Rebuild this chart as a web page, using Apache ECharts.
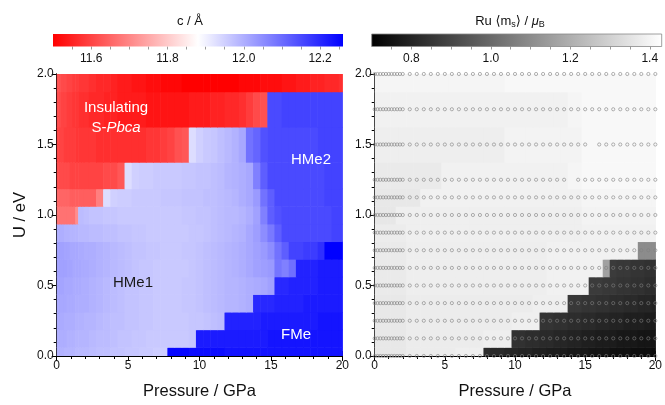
<!DOCTYPE html>
<html><head><meta charset="utf-8">
<script src="https://cdn.jsdelivr.net/npm/echarts@6/dist/echarts.min.js"></script>
<style>html,body{margin:0;padding:0;background:#fff}#c{width:665px;height:405px}</style>
</head><body><div id="c"></div>
<script>
// ---------- grid of calculated points ----------
const pressures = [0,0.2,0.4,0.6,0.8,1.0,1.2,1.4,1.6,1.8,2.0,
  2.5,3,3.5,4,4.5,5,5.5,6,6.5,7,7.5,8,8.5,9,9.5,10,10.5,11,11.5,12,12.5,13,13.5,14,14.5,15,15.5,16,16.5,17,17.5,18,18.5,19,19.5,20];
const uValues = [0,0.125,0.25,0.375,0.5,0.625,0.75,0.875,1.0,1.125,1.25,1.5,1.75,2.0];
const missingDots = [[15.5,1.5],[14,1.25]];

// ---------- lattice parameter c (Å), one row per U ----------
const c_U0_000 = [11.995,11.995,11.995,11.99,11.99,11.99,11.99,11.985,11.985,11.985,11.985,
 11.98,11.975,11.975,11.97,11.97,11.965,11.965,11.96,11.96,11.955,11.955,
 12.25,12.25,12.25,12.24,12.24,12.24,12.24,12.24,12.23,12.23,12.23,12.23,12.23,12.23,12.23,12.23,12.23,12.23,12.23,12.23,12.23,12.23,12.23,12.23,12.23];
const c_U0_125 = [12.00,12.00,12.00,12.00,11.995,11.995,11.995,11.99,11.99,11.99,11.99,
 11.985,11.98,11.98,11.975,11.97,11.97,11.965,11.965,11.96,11.96,
 11.96,11.96,11.96,11.96,11.965,
 12.22,12.22,12.22,12.22,12.22,12.22,12.22,12.22,12.22,12.22,12.23,12.23,12.23,12.23,12.23,12.23,12.23,12.23,12.23,12.23,12.23];
const c_U0_250 = [12.005,12.005,12.005,12.00,12.00,12.00,12.00,11.995,11.995,11.995,11.99,
 11.99,11.985,11.98,11.975,11.975,11.97,11.97,11.965,11.965,11.96,
 11.96,11.96,11.96,11.96,11.965,11.965,11.97,11.975,11.98,
 12.21,12.21,12.21,12.21,12.21,12.22,12.22,12.22,12.22,12.22,12.22,12.22,12.22,12.23,12.23,12.23,12.23];
const c_U0_375 = [12.01,12.01,12.01,12.01,12.005,12.005,12.005,12.00,12.00,12.00,12.00,
 11.995,11.99,11.985,11.98,11.975,11.97,11.97,11.965,11.965,11.96,
 11.96,11.96,11.96,11.965,11.965,11.97,11.975,11.98,11.985,11.99,
 11.99,11.995,12.00,
 12.20,12.20,12.20,12.21,12.21,12.21,12.21,12.22,12.22,12.22,12.22,12.22,12.22];
const c_U0_500 = [12.015,12.015,12.015,12.01,12.01,12.01,12.005,12.005,12.005,12.00,12.00,
 11.995,11.99,11.985,11.98,11.975,11.97,11.97,11.965,11.965,11.96,
 11.96,11.96,11.96,11.965,11.965,11.97,11.975,11.98,11.985,11.99,
 11.99,11.995,12.00,
 12.005,12.01,12.02,
 12.20,12.20,12.21,12.21,12.21,12.21,12.22,12.22,12.22,12.22];
const c_U0_625 = [12.02,12.02,12.02,12.02,12.015,12.015,12.01,12.01,12.01,12.005,12.005,
 12.00,11.995,11.99,11.985,11.98,11.975,11.97,11.965,11.965,11.96,
 11.96,11.96,11.96,11.96,11.965,11.97,11.975,11.98,11.985,11.99,
 11.995,12.00,12.01,
 12.02,12.025,12.03,
 12.085,12.07,12.095,
 12.21,12.21,12.21,12.22,12.22,12.22,12.22];
const c_U0_750 = [12.02,12.02,12.02,12.015,12.015,12.01,12.01,12.01,12.005,12.005,12.00,
 12.00,11.995,11.99,11.985,11.98,11.975,11.97,11.97,11.965,11.965,
 11.96,11.96,11.96,11.965,11.965,11.97,11.975,11.98,11.985,11.99,
 11.995,12.00,12.01,
 12.02,12.03,12.05,12.09,12.12,
 12.16,12.16,12.17,12.17,12.19,
 12.26,12.26,12.26];
const c_U0_875 = [12.00,12.00,12.00,11.995,11.995,11.99,11.99,11.99,11.985,11.985,11.985,
 11.98,11.98,11.975,11.975,11.97,11.97,11.965,11.965,11.96,11.96,
 11.96,11.96,11.96,11.96,11.965,11.965,11.97,11.975,11.98,11.985,
 11.99,11.995,12.01,
 12.025,12.05,12.08,12.12,
 12.15,12.15,12.15,12.15,12.15,12.15,12.15,12.16,12.16];
const c_U1_000 = [11.67,11.67,11.67,11.67,11.67,11.67,11.67,11.71,11.98,11.98,11.975,
 11.97,11.97,11.965,11.965,11.96,11.96,11.96,11.96,11.96,11.96,
 11.96,11.96,11.96,11.965,11.965,11.97,11.97,11.975,11.98,
 11.985,11.985,11.99,12.00,
 12.02,12.07,12.12,12.14,
 12.15,12.15,12.15,12.15,12.15,12.15,12.15,12.16,12.16];
const c_U1_125 = [11.65,11.65,11.65,11.65,11.65,11.64,11.64,11.64,11.64,11.64,11.64,
 11.64,11.69,
 11.93,
 11.95,11.955,11.955,11.96,11.96,11.96,11.96,11.965,11.965,11.965,11.97,11.97,
 11.97,11.975,11.975,11.98,11.985,11.99,12.00,
 12.01,12.03,12.09,12.12,
 12.15,12.15,12.15,12.15,12.15,12.15,12.15,12.16,12.16,12.16];
const c_U1_250 = [11.61,11.61,11.61,11.61,11.61,11.60,11.60,11.60,11.60,11.60,11.60,
 11.60,11.60,11.61,11.61,11.63,
 11.93,
 11.95,11.955,11.955,11.96,11.96,11.96,11.96,11.965,11.965,
 11.97,11.97,11.975,11.98,
 11.99,11.995,12.00,
 12.01,12.07,12.12,
 12.15,12.15,12.15,12.15,12.15,12.15,12.15,12.15,12.16,12.16,12.16];
const c_U1_500 = [11.60,11.60,11.60,11.59,11.59,11.59,11.59,11.58,11.58,11.58,11.58,
 11.58,11.57,11.57,11.57,11.57,11.57,11.57,11.57,11.58,11.58,
 11.59,11.60,11.62,11.63,
 11.93,11.95,11.96,11.965,11.975,11.985,11.995,12.01,
 12.09,12.11,12.14,
 12.15,12.15,12.15,12.15,12.15,12.15,12.15,12.16,12.16,12.16,12.16];
const c_U1_750 = [11.61,11.61,11.60,11.60,11.59,11.59,11.58,11.58,11.57,11.57,11.57,
 11.56,11.56,11.55,11.55,11.54,11.54,11.54,11.54,11.53,11.53,
 11.53,11.53,11.53,11.53,11.54,11.54,11.54,11.55,11.55,11.56,
 11.56,11.57,11.59,11.61,11.62,
 12.15,12.15,12.16,12.16,12.16,12.16,12.16,12.16,12.16,12.16,12.16];
const c_U2_000 = [11.62,11.62,11.61,11.61,11.60,11.60,11.59,11.59,11.58,11.58,11.58,
 11.57,11.56,11.56,11.55,11.54,11.54,11.53,11.53,11.52,11.52,
 11.51,11.51,11.51,11.50,11.50,11.50,11.50,11.50,11.50,11.50,
 11.50,11.51,11.51,11.51,11.52,11.52,11.52,11.53,11.53,11.54,
 11.54,11.55,11.55,11.56,11.56,11.57];

// ---------- Ru moment <m_s> (μB), one row per U ----------
const m_U0_000 = [1.365,1.365,1.365,1.365,1.365,1.365,1.365,1.365,1.365,1.365,1.365,
 1.375,1.375,1.375,1.375,1.375,1.375,1.375,1.385,1.385,1.385,1.385,
 0.83,0.82,0.82,0.81,0.81,0.80,0.80,0.79,0.79,0.78,0.78,0.78,0.77,0.77,0.77,0.76,0.76,0.76,0.75,0.75,0.75,0.74,0.74,0.74,0.735];
const m_U0_125 = [1.365,1.365,1.365,1.365,1.365,1.365,1.365,1.365,1.365,1.365,1.365,
 1.375,1.375,1.375,1.375,1.375,1.375,1.375,1.375,1.375,1.375,1.375,1.385,1.385,1.385,1.385,
 0.84,0.84,0.83,0.83,0.82,0.82,0.81,0.81,0.80,0.80,0.79,0.79,0.78,0.78,0.78,0.77,0.77,0.77,0.76,0.76,0.76];
const m_U0_250 = [1.365,1.365,1.365,1.365,1.365,1.365,1.365,1.365,1.365,1.365,1.365,
 1.375,1.375,1.375,1.375,1.375,1.375,1.375,1.375,1.375,1.375,1.375,1.375,1.375,1.375,1.375,1.385,1.385,1.385,1.385,
 0.85,0.85,0.84,0.84,0.83,0.83,0.82,0.82,0.81,0.81,0.80,0.80,0.79,0.79,0.79,0.78,0.78];
const m_U0_375 = [1.365,1.365,1.365,1.365,1.365,1.365,1.365,1.365,1.365,1.365,1.365,
 1.375,1.375,1.375,1.375,1.375,1.375,1.375,1.375,1.375,1.375,1.375,1.375,1.375,1.375,1.375,1.375,1.375,1.375,
 1.385,1.385,1.385,1.385,1.385,
 0.86,0.86,0.85,0.85,0.84,0.84,0.83,0.83,0.82,0.82,0.81,0.81,0.80];
const m_U0_500 = [1.37,1.37,1.37,1.37,1.37,1.37,1.37,1.37,1.37,1.37,1.37,
 1.38,1.38,1.38,1.38,1.38,1.38,1.38,1.38,1.38,1.38,1.38,1.38,1.38,1.38,1.38,1.38,1.38,1.38,1.38,1.38,
 1.39,1.39,1.39,1.39,1.39,1.39,
 0.87,0.87,0.86,0.86,0.85,0.85,0.84,0.84,0.83,0.83];
const m_U0_625 = [1.37,1.37,1.37,1.37,1.37,1.37,1.37,1.37,1.37,1.37,1.37,
 1.38,1.38,1.38,1.38,1.38,1.38,1.38,1.38,1.38,1.38,1.38,1.38,1.38,1.38,1.38,1.38,1.38,1.38,1.38,1.38,
 1.39,1.39,1.39,1.39,1.39,1.39,1.39,1.39,
 1.16,
 0.87,0.86,0.86,0.85,0.85,0.84,0.84];
const m_U0_750 = [1.37,1.37,1.37,1.37,1.37,1.37,1.37,1.37,1.37,1.37,1.37,
 1.38,1.38,1.38,1.38,1.38,1.38,1.38,1.38,1.38,1.38,1.38,1.38,1.38,1.38,1.38,1.38,1.38,1.38,1.38,1.38,
 1.39,1.39,1.39,1.39,1.39,1.39,1.39,1.39,1.39,1.39,1.39,1.39,1.39,
 1.10,1.10,1.10];
const m_U0_875 = [1.375,1.375,1.375,1.375,1.375,1.375,1.375,1.375,1.375,1.375,1.375,
 1.385,1.385,1.385,1.385,1.385,1.385,1.385,1.385,1.385,1.385,1.385,1.385,1.385,1.385,1.385,1.385,1.385,1.385,1.385,1.385,1.385,1.385,1.385,1.385,1.385,
 1.39,1.39,1.39,1.39,1.39,1.39,1.39,1.39,1.39,1.39,1.39];
const m_U1_000 = [1.36,1.36,1.36,1.36,1.36,1.36,1.36,1.36,
 1.385,1.385,1.385,1.385,1.385,1.385,1.385,1.385,1.385,1.385,1.385,1.385,1.385,1.385,1.385,1.385,1.385,1.385,1.385,1.385,1.385,1.385,1.385,1.385,1.385,1.385,1.385,1.385,
 1.395,1.395,1.395,1.395,1.395,1.395,1.395,1.395,1.395,1.395,1.395];
const m_U1_125 = [1.365,1.365,1.365,1.365,1.365,1.365,1.365,1.365,1.365,1.365,1.365,1.365,1.365,
 1.39,1.39,1.39,1.39,1.39,1.39,1.39,1.39,1.39,1.39,1.39,1.39,1.39,1.39,1.39,1.39,1.39,1.39,1.39,1.39,1.39,1.39,1.39,
 1.40,1.40,1.40,1.40,1.40,1.40,1.40,1.40,1.40,1.40,1.40];
const m_U1_250 = [1.37,1.37,1.37,1.37,1.37,1.37,1.37,1.37,1.37,1.37,1.37,1.37,1.37,1.37,1.37,1.37,
 1.39,1.39,1.39,1.39,1.39,1.39,1.39,1.39,1.39,1.39,1.39,1.39,1.39,1.39,1.39,1.39,1.39,1.39,
 1.40,1.40,
 1.41,1.41,1.41,1.41,1.41,1.41,1.41,1.41,1.41,1.41,1.41];
const m_U1_500 = [1.38,1.38,1.38,1.38,1.38,1.38,1.38,1.38,1.38,1.38,1.38,1.38,1.38,1.38,1.38,1.38,1.38,1.38,1.38,1.38,1.38,1.38,1.38,1.38,1.38,
 1.395,1.395,1.395,1.395,1.395,1.395,1.395,1.395,1.395,1.395,1.395,
 1.41,1.41,1.41,1.41,1.41,1.41,1.41,1.41,1.41,1.41,1.41];
const m_U1_750 = [1.39,1.39,1.39,1.39,1.39,1.39,1.39,1.39,1.39,1.39,1.39,1.39,1.39,1.39,1.39,1.39,1.39,1.39,1.39,1.39,1.39,1.39,1.39,1.39,1.39,1.39,1.39,1.39,1.39,1.39,1.39,1.39,1.39,1.39,
 1.40,1.40,
 1.41,1.41,1.41,1.41,1.41,1.41,1.41,1.41,1.41,1.41,1.41];
const m_U2_000 = [1.40,1.40,1.40,1.40,1.40,1.40,1.40,1.40,1.40,1.40,1.40,1.40,1.40,1.40,1.40,1.40,1.40,1.40,1.40,1.40,1.40,1.40,1.40,1.40,1.40,
 1.41,1.41,1.41,1.41,1.41,1.41,1.41,1.41,1.41,1.41,1.41,1.41,1.41,1.41,1.41,1.41,1.41,1.41,1.41,1.41,1.41,1.41];

// ---------- colour-bar scales and tick labels ----------
const cRange = [11.5, 12.26];
const cMid = 11.88;
const cBarLabels = [11.6, 11.8, 12.0, 12.2];
const cBarTicks = [11.55,11.6,11.65,11.7,11.75,11.8,11.85,11.9,11.95,12.0,12.05,12.1,12.15,12.2,12.25];
const mRange = [0.7, 1.43];
const mBarLabels = [0.8, 1.0, 1.2, 1.4];
const mBarTicks = [0.75,0.8,0.85,0.9,0.95,1.0,1.05,1.1,1.15,1.2,1.25,1.3,1.35,1.4];
const pressureLabels = [0,5,10,15,20];
const uLabels = [0,0.5,1.0,1.5,2.0];

const cGrid = [c_U0_000,c_U0_125,c_U0_250,c_U0_375,c_U0_500,c_U0_625,c_U0_750,c_U0_875,c_U1_000,c_U1_125,c_U1_250,c_U1_500,c_U1_750,c_U2_000];
const mGrid = [m_U0_000,m_U0_125,m_U0_250,m_U0_375,m_U0_500,m_U0_625,m_U0_750,m_U0_875,m_U1_000,m_U1_125,m_U1_250,m_U1_500,m_U1_750,m_U2_000];

// ---------- helpers ----------
function cColor(v){
  if (v <= cMid){ const t=Math.max(0,Math.min(1,(v-cRange[0])/(cMid-cRange[0]))); const g=Math.round(255*t); return 'rgb(255,'+g+','+g+')'; }
  const s=Math.max(0,Math.min(1,(v-cMid)/(cRange[1]-cMid))); const g=Math.round(255*(1-s)); return 'rgb('+g+','+g+',255)';
}
function mColor(v){ const g=Math.round(255*Math.max(0,Math.min(1,(v-mRange[0])/(mRange[1]-mRange[0])))); return 'rgb('+g+','+g+','+g+')'; }
function edges(arr, lo, hi){ return arr.map((v,i)=>[i===0?lo:(arr[i-1]+v)/2, i===arr.length-1?hi:(v+arr[i+1])/2]); }
const pE = edges(pressures, pressures[0], pressures[pressures.length-1]);
const uE = edges(uValues, uValues[0], uValues[uValues.length-1]);
function cells(grid){ const out=[]; grid.forEach((row,j)=>row.forEach((v,i)=>{ if(v==null) return; out.push([pE[i][0],pE[i][1],uE[j][0],uE[j][1],v]); })); return out; }
const dots=[]; uValues.forEach(u=>pressures.forEach(p=>{ if(!missingDots.some(d=>d[0]===p&&d[1]===u)) dots.push([p,u]); }));

const FONT = "'Liberation Sans', Arial, 'DejaVu Sans', sans-serif";
function cellRender(colorFn){
  return function(params, api){
    const a = api.coord([api.value(0), api.value(3)]);
    const b = api.coord([api.value(1), api.value(2)]);
    return {type:'rect', shape:{x:a[0], y:a[1], width:b[0]-a[0]+0.6, height:b[1]-a[1]+0.6}, style:{fill:colorFn(api.value(4))}};
  };
}
function barRender(stops, border){
  return function(params, api){
    const a = api.coord([api.value(0), 1]);
    const b = api.coord([api.value(1), 0]);
    return {type:'rect', shape:{x:a[0], y:a[1], width:b[0]-a[0], height:b[1]-a[1]},
      style:{fill:new echarts.graphic.LinearGradient(0,0,1,0,stops), stroke:border, lineWidth:border?0.8:0}};
  };
}

const axLine = {show:true, lineStyle:{color:'#000', width:1}};
function mainX(gridIndex, pos, labels){
  return {type:'value', gridIndex, position:pos, min:0, max:20, interval:5,
    axisLine:axLine, axisTick:{show:true, inside:true, length:5, lineStyle:{color:'#000'}},
    minorTick:{show:true, splitNumber:5, length:3, lineStyle:{color:'#000'}},
    splitLine:{show:false}, minorSplitLine:{show:false},
    axisLabel:{show:labels, margin:4, color:'#111', fontSize:12, fontFamily:FONT,
      customValues: pressureLabels},
    name: labels?'Pressure / GPa':'', nameLocation:'middle', nameGap:27,
    nameTextStyle:{fontSize:16.5, color:'#111', fontFamily:FONT}};
}
function mainY(gridIndex, pos, labels, name){
  return {type:'value', gridIndex, position:pos, min:0, max:2, interval:0.5,
    axisLine:axLine, axisTick:{show:true, inside:true, length:5, lineStyle:{color:'#000'}},
    minorTick:{show:true, splitNumber:5, length:3, lineStyle:{color:'#000'}},
    splitLine:{show:false}, minorSplitLine:{show:false},
    axisLabel:{show:labels, margin:3, color:'#111', fontSize:12, fontFamily:FONT, formatter:v=>v.toFixed(1),
      customValues: uLabels},
    name: name||'', nameLocation:'middle', nameGap:28,
    nameTextStyle:{fontSize:16.5, color:'#111', fontFamily:FONT}};
}
function barX(gridIndex, range, ticks, labels){
  return {type:'value', gridIndex, position:'bottom', min:range[0], max:range[1],
    axisLine:{show:false}, splitLine:{show:false},
    axisTick:{show:true, inside:false, length:3, customValues:ticks, lineStyle:{color:'#999', width:1}},
    axisLabel:{show:true, margin:6, color:'#111', fontSize:12, fontFamily:FONT, customValues:labels, formatter:v=>v.toFixed(1)}};
}
function barY(gridIndex){ return {type:'value', gridIndex, min:0, max:1, show:false}; }

const option = {
  backgroundColor:'#fff',
  animation:false,
  grid:[
    {left:56.7, top:74, width:285.6, height:287.5},
    {left:374.7, top:74, width:284.6, height:287.5},
    {left:53, top:34, width:290, height:12.5},
    {left:371.7, top:34, width:290, height:12.5}
  ],
  xAxis:[
    mainX(0,'bottom',true), mainX(0,'top',false),
    mainX(1,'bottom',true), mainX(1,'top',false),
    barX(2,cRange,cBarTicks,cBarLabels), barX(3,mRange,mBarTicks,mBarLabels)
  ],
  yAxis:[
    mainY(0,'left',true,'U / eV'), mainY(0,'right',false),
    mainY(1,'left',true), mainY(1,'right',false),
    barY(2), barY(3)
  ],
  series:[
    {type:'custom', xAxisIndex:0, yAxisIndex:0, data:cells(cGrid), encode:{x:[0,1], y:[2,3]}, renderItem:cellRender(cColor), clip:true, silent:true, z:1},
    {type:'custom', xAxisIndex:2, yAxisIndex:2, data:cells(mGrid), encode:{x:[0,1], y:[2,3]}, renderItem:cellRender(mColor), clip:true, silent:true, z:1},
    {type:'scatter', xAxisIndex:2, yAxisIndex:2, data:dots, symbol:'circle', symbolSize:3.2, silent:true, z:2,
      itemStyle:{color:'rgba(0,0,0,0)', borderColor:'#808080', borderWidth:0.75}},
    {type:'custom', xAxisIndex:4, yAxisIndex:4, data:[[cRange[0], cRange[1]]], encode:{x:[0,1]}, silent:true,
      renderItem:barRender([{offset:0,color:'#ff0000'},{offset:(cMid-cRange[0])/(cRange[1]-cRange[0]),color:'#ffffff'},{offset:1,color:'#0000ff'}], null)},
    {type:'custom', xAxisIndex:5, yAxisIndex:5, data:[[mRange[0], mRange[1]]], encode:{x:[0,1]}, silent:true,
      renderItem:barRender([{offset:0,color:'#000000'},{offset:1,color:'#ffffff'}], '#888')}
  ],
  graphic:[
    {type:'text', x:190, y:21, style:{text:'c / Å', fontSize:13, fontFamily:FONT, fill:'#111', align:'center', verticalAlign:'middle'}},
    {type:'text', x:510, y:21, style:{text:'Ru ⟨m{s|s}⟩ / {i|μ}{s|B}', fontSize:13, fontFamily:FONT, fill:'#111', align:'center', verticalAlign:'middle',
      rich:{s:{fontSize:9, fontFamily:FONT, fill:'#111', padding:[7,0,0,0]}, i:{fontSize:13, fontStyle:'italic', fontFamily:FONT, fill:'#111'}}}},
    {type:'text', x:116, y:108, z:10, style:{text:'Insulating', fontSize:15, fontFamily:FONT, fill:'#fff', align:'center', verticalAlign:'middle'}},
    {type:'text', x:116, y:128, z:10, style:{text:'S-{i|Pbca}', fontSize:15, fontFamily:FONT, fill:'#fff', align:'center', verticalAlign:'middle',
      rich:{i:{fontStyle:'italic', fontSize:15, fontFamily:FONT, fill:'#fff'}}}},
    {type:'text', x:311, y:160, z:10, style:{text:'HMe2', fontSize:15, fontFamily:FONT, fill:'#fff', align:'center', verticalAlign:'middle'}},
    {type:'text', x:133, y:283, z:10, style:{text:'HMe1', fontSize:15, fontFamily:FONT, fill:'#1a1a1a', align:'center', verticalAlign:'middle'}},
    {type:'text', x:296, y:335, z:10, style:{text:'FMe', fontSize:15, fontFamily:FONT, fill:'#fff', align:'center', verticalAlign:'middle'}}
  ]
};
const chart = echarts.init(document.getElementById('c'), null, {renderer:'canvas'});
chart.setOption(option);
</script>
</body></html>
